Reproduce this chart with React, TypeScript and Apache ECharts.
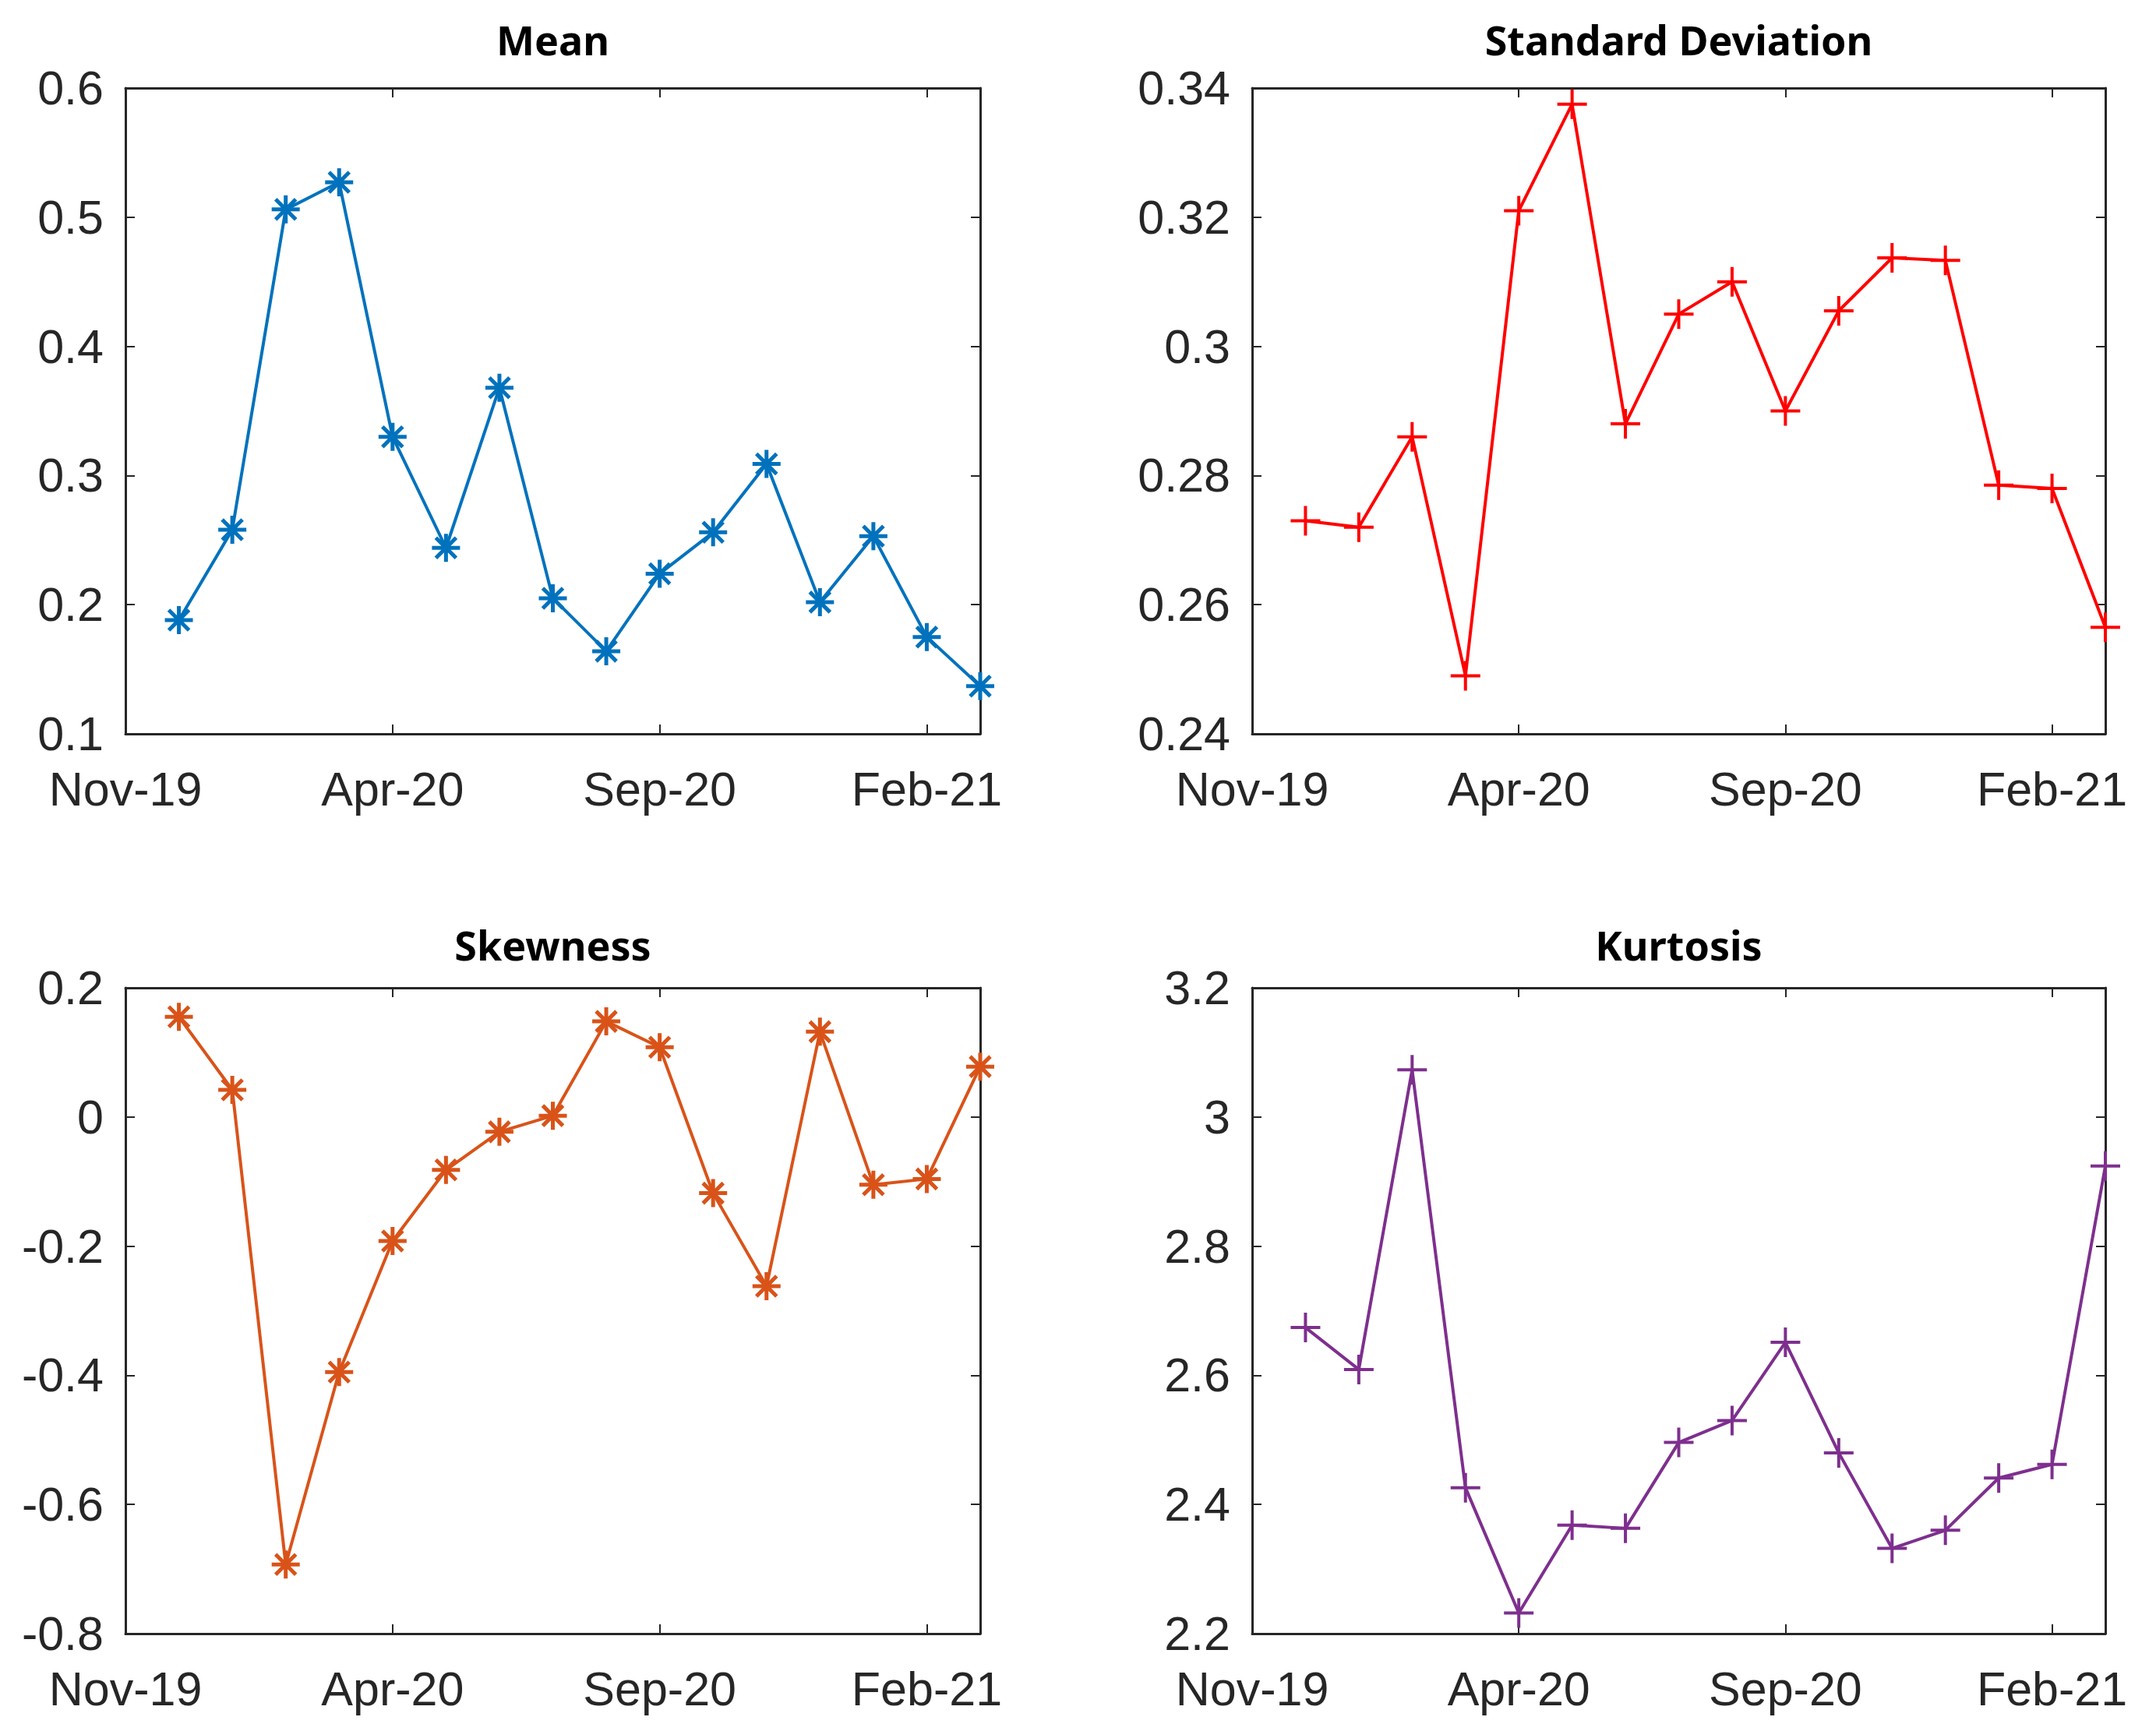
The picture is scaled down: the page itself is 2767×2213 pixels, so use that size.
import React, { useEffect, useRef } from 'react';
import * as echarts from 'echarts';

// ---- data ----
const months = ['Dec-19', 'Jan-20', 'Feb-20', 'Mar-20', 'Apr-20', 'May-20', 'Jun-20', 'Jul-20', 'Aug-20', 'Sep-20', 'Oct-20', 'Nov-20', 'Dec-20', 'Jan-21', 'Feb-21', 'Mar-21'];
const xTickLabels = ['Nov-19', 'Apr-20', 'Sep-20', 'Feb-21'];
const xTickStep = 5;

const meanValues = [0.188, 0.258, 0.506, 0.527, 0.330, 0.244, 0.368, 0.205, 0.164, 0.224, 0.256, 0.309, 0.202, 0.253, 0.175, 0.137];
const stdValues = [0.273, 0.272, 0.286, 0.249, 0.321, 0.3375, 0.288, 0.305, 0.310, 0.290, 0.3055, 0.3137, 0.3133, 0.2785, 0.278, 0.2565];
const skewValues = [0.155, 0.042, -0.693, -0.395, -0.192, -0.082, -0.023, 0.002, 0.148, 0.108, -0.118, -0.262, 0.132, -0.105, -0.096, 0.078];
const kurtValues = [2.674, 2.609, 3.073, 2.426, 2.232, 2.368, 2.363, 2.496, 2.530, 2.651, 2.480, 2.332, 2.360, 2.441, 2.462, 2.924];

const titles = ['Mean', 'Standard Deviation', 'Skewness', 'Kurtosis'];
const yMins = [0.1, 0.24, -0.8, 2.2];
const yMaxs = [0.6, 0.34, 0.2, 3.2];
const yIntervals = [0.1, 0.02, 0.2, 0.2];

// ---- styling ----
const W = 2767;
const H = 2213;
const colors = ['#0072BD', '#FF0000', '#D95319', '#7E2F8E'];
const markers = ['star', 'plus', 'star', 'plus'];
const grids = [
  { left: 161, top: 113, width: 1097, height: 829 },
  { left: 1607, top: 113, width: 1095, height: 829 },
  { left: 161, top: 1268, width: 1097, height: 829 },
  { left: 1607, top: 1268, width: 1095, height: 829 },
];
const titleY = [50, 50, 1212, 1212];
const axisColor = '#262626';
const tickFont = 'Liberation Sans, Arial, sans-serif';

const PLUS = 'path://M19,0 L19,38 M0,19 L38,19';
const STAR = 'path://M18,0 L18,36 M0,18 L36,18 M5,5 L31,31 M5,31 L31,5';

export default function App() {
  const ref = useRef<HTMLDivElement>(null);
  useEffect(() => {
    document.body.style.margin = '0';
    const chart = echarts.init(ref.current as HTMLDivElement, null, { renderer: 'svg' });
    const allValues = [meanValues, stdValues, skewValues, kurtValues];

    const xAxis: any[] = [];
    const yAxis: any[] = [];
    const series: any[] = [];
    const graphic: any[] = [];

    grids.forEach((g, i) => {
      const baseLine = { show: true, onZero: false, lineStyle: { color: axisColor, width: 3 } };
      const tick = { show: true, inside: true, length: 12, lineStyle: { color: axisColor, width: 2 } };
      xAxis.push({
        type: 'value', gridIndex: i, position: 'bottom', min: 0, max: months.length, interval: xTickStep,
        axisLine: baseLine, axisTick: tick, splitLine: { show: false },
        axisLabel: {
          show: true, margin: 40, fontSize: 61, color: axisColor, fontFamily: tickFont,
          formatter: (v: number) => {
            const k = v / xTickStep;
            return Number.isInteger(k) && k < xTickLabels.length ? xTickLabels[k] : '';
          },
        },
      });
      xAxis.push({
        type: 'value', gridIndex: i, position: 'top', min: 0, max: months.length, interval: xTickStep,
        axisLine: baseLine, axisTick: tick, splitLine: { show: false }, axisLabel: { show: false },
      });
      yAxis.push({
        type: 'value', gridIndex: i, position: 'left', min: yMins[i], max: yMaxs[i], interval: yIntervals[i],
        axisLine: baseLine, axisTick: tick, splitLine: { show: false },
        axisLabel: {
          show: true, margin: 28, fontSize: 61, color: axisColor, fontFamily: tickFont,
          formatter: (v: number) => String(Math.round(v * 100) / 100),
        },
      });
      yAxis.push({
        type: 'value', gridIndex: i, position: 'right', min: yMins[i], max: yMaxs[i], interval: yIntervals[i],
        axisLine: baseLine, axisTick: tick, splitLine: { show: false }, axisLabel: { show: false },
      });

      const isStar = markers[i] === 'star';
      series.push({
        type: 'line',
        name: titles[i],
        xAxisIndex: 2 * i,
        yAxisIndex: 2 * i,
        data: allValues[i].map((v, j) => [j + 1, v]),
        symbol: isStar ? STAR : PLUS,
        symbolSize: isStar ? 36 : 38,
        showAllSymbol: true,
        clip: false,
        lineStyle: { color: colors[i], width: 4 },
        itemStyle: { color: colors[i], borderColor: colors[i], borderWidth: isStar ? 5 : 4 },
        emphasis: { disabled: true },
        z: 5,
      });

      graphic.push({
        type: 'text',
        x: g.left + g.width / 2,
        y: titleY[i],
        style: {
          text: titles[i],
          textAlign: 'center',
          textVerticalAlign: 'middle',
          fontSize: 52,
          fontWeight: 'bold',
          fontFamily: 'Noto Sans, Open Sans, sans-serif',
          fill: '#000000',
        },
      });
    });

    chart.setOption({
      animation: false,
      backgroundColor: '#ffffff',
      grid: grids.map((g) => ({ ...g, containLabel: false })),
      xAxis,
      yAxis,
      series,
      graphic,
    });
    return () => chart.dispose();
  }, []);
  return <div ref={ref} style={{ width: W, height: H }} />;
}
